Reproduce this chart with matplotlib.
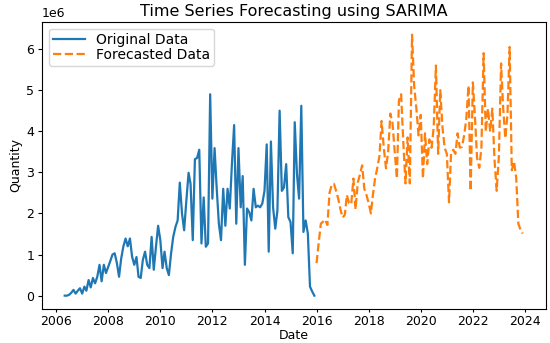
import matplotlib
matplotlib.use('Agg')
import matplotlib.pyplot as plt
import numpy as np
import pandas as pd

# monthly quantities, in millions
original_values = [
    0.0, 0.0, 0.02, 0.07, 0.14, 0.05, 0.12, 0.18, 0.05, 0.22,
    0.12, 0.38, 0.2, 0.43, 0.3, 0.46, 0.75, 0.35, 0.75, 0.55,
    0.7, 0.85, 1.0, 1.03, 0.8, 0.46, 0.9, 1.2, 1.39, 1.2,
    1.39, 0.95, 0.75, 0.94, 0.46, 0.43, 0.87, 1.07, 0.75, 0.67,
    1.43, 0.63, 1.19, 1.7, 1.35, 0.67, 1.07, 0.67, 0.5, 1.03,
    1.43, 1.67, 1.83, 2.75, 2.0, 1.59, 2.31, 2.99, 2.72, 1.35,
    3.32, 3.35, 3.55, 1.27, 2.39, 1.19, 1.27, 4.9, 2.36, 3.59,
    2.63, 1.75, 1.35, 2.6, 1.7, 2.6, 2.12, 3.2, 4.15, 1.75,
    3.59, 2.15, 2.91, 0.75, 2.12, 2.03, 1.83, 2.6, 2.15, 2.19,
    2.15, 2.24, 2.55, 3.68, 1.07, 3.75, 2.15, 1.63, 2.07, 4.5,
    2.55, 2.63, 3.2, 1.91, 1.79, 1.03, 4.22, 2.96, 2.36, 4.62,
    1.55, 1.83, 1.51, 0.22, 0.1, 0.0,
]

forecast_values = [
    0.79, 1.3, 1.75, 1.8, 1.85, 1.72, 2.5, 2.7, 2.72, 2.55,
    2.35, 2.1, 1.9, 1.97, 2.45, 2.25, 2.22, 2.85, 2.1, 2.75,
    2.95, 3.17, 2.6, 2.45, 2.25, 2.0, 2.45, 2.85, 3.1, 3.4,
    4.25, 3.6, 3.1, 3.5, 4.43, 4.2, 3.5, 2.85, 4.75, 4.9,
    3.75, 2.73, 3.85, 2.73, 6.35, 5.1, 4.55, 3.9, 4.4, 2.85,
    3.95, 3.2, 3.8, 3.6, 4.1, 5.6, 3.45, 5.0, 4.1, 3.6,
    3.45, 2.27, 3.45, 3.55, 3.45, 3.95, 3.6, 3.62, 3.9, 4.3,
    5.11, 2.55, 5.19, 4.3, 3.35, 3.11, 3.6, 5.9, 3.99, 4.55,
    3.99, 4.55, 3.3, 2.55, 3.4, 5.65, 4.6, 3.83, 4.39, 6.05,
    3.05, 3.27, 2.87, 1.75, 1.6, 1.51,
]

original_dates = pd.date_range('2006-05-01', periods=len(original_values), freq='MS')
forecast_dates = pd.date_range('2016-01-01', periods=len(forecast_values), freq='MS')

plt.figure(figsize=(5.5, 3.43), dpi=100)
plt.plot(original_dates, np.array(original_values) * 1e6, color='#1f77b4', linewidth=1.6, label='Original Data')
plt.plot(forecast_dates, np.array(forecast_values) * 1e6, color='#ff7f0e', linestyle='--', linewidth=1.6,
         label='Forecasted Data')
plt.title('Time Series Forecasting using SARIMA', fontsize=11.5, pad=4)
plt.xlabel('Date', fontsize=9, labelpad=1)
plt.ylabel('Quantity', fontsize=9, labelpad=3)
plt.tick_params(axis='x', labelsize=9, length=2.5, pad=2)
plt.tick_params(axis='y', labelsize=9, length=3, pad=2.5)
plt.gca().yaxis.get_offset_text().set_fontsize(9)
plt.legend(loc='upper left', fontsize=10, borderpad=0.3, labelspacing=0.1, handlelength=2.3)
plt.subplots_adjust(left=0.076, right=0.992, top=0.937, bottom=0.1)
plt.savefig('out.png', dpi=100)
